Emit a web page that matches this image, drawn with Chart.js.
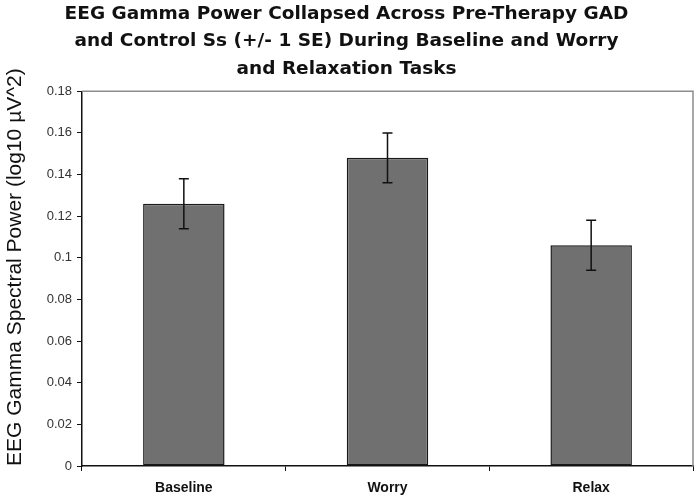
<!DOCTYPE html>
<html>
<head>
<meta charset="utf-8">
<script src="https://cdn.jsdelivr.net/npm/chart.js@4"></script>
<style>
  html, body { margin: 0; padding: 0; background: #fff; }
  #wrap { width: 700px; height: 501px; }
</style>
</head>
<body>
<div id="wrap"><canvas id="eegChart"></canvas></div>
<script>
const categories = ['Baseline', 'Worry', 'Relax'];
const gammaPower = [0.126, 0.148, 0.106];
const gammaSE = [0.012, 0.012, 0.012];
const yTicks = [0, 0.02, 0.04, 0.06, 0.08, 0.1, 0.12, 0.14, 0.16, 0.18];
const titleLines = [
    'EEG Gamma Power Collapsed Across Pre-Therapy GAD',
    'and Control Ss (+/- 1 SE) During Baseline and Worry',
    'and Relaxation Tasks'
];

Chart.defaults.font.family = '"Liberation Sans", Arial, sans-serif';
Chart.defaults.color = '#222';

// error bars + plot frame
const errorBars = {
    id: 'errorBars',
    beforeDatasetsDraw(chart) {
        const a = chart.chartArea;
        const ctx = chart.ctx;
        ctx.save();
        ctx.strokeStyle = '#8c8c8c';
        ctx.lineWidth = 1.5;
        ctx.beginPath();
        ctx.moveTo(a.left, a.top);
        ctx.lineTo(a.right, a.top);
        ctx.lineTo(a.right, a.bottom);
        ctx.stroke();
        ctx.restore();
    },
    afterDatasetsDraw(chart) {
        const ctx = chart.ctx;
        const x = chart.scales.x;
        const y = chart.scales.y;
        ctx.save();
        ctx.strokeStyle = '#111';
        ctx.lineWidth = 1.5;
        gammaPower.forEach((v, i) => {
            const px = x.getPixelForValue(i);
            const top = y.getPixelForValue(v + gammaSE[i]);
            const bot = y.getPixelForValue(v - gammaSE[i]);
            ctx.beginPath();
            ctx.moveTo(px, top);
            ctx.lineTo(px, bot);
            ctx.moveTo(px - 5, top);
            ctx.lineTo(px + 5, top);
            ctx.moveTo(px - 5, bot);
            ctx.lineTo(px + 5, bot);
            ctx.stroke();
        });
        ctx.restore();
    }
};

new Chart(document.getElementById('eegChart').getContext('2d'), {
    type: 'bar',
    data: {
        labels: categories,
        datasets: [{
            data: gammaPower,
            backgroundColor: '#707070',
            borderColor: '#1a1a1a',
            borderWidth: 1.5,
            borderSkipped: false,
            categoryPercentage: 1,
            barPercentage: 0.4
        }]
    },
    options: {
        responsive: true,
        maintainAspectRatio: false,
        animation: false,
        layout: { padding: { left: 0, right: 7, top: 0, bottom: 0 } },
        plugins: {
            legend: { display: false },
            tooltip: { enabled: false },
            title: {
                display: true,
                text: titleLines,
                color: '#111',
                font: { family: '"DejaVu Sans", sans-serif', size: 18.5, weight: 'bold', lineHeight: 1.5 },
                padding: { top: 0, bottom: 8 }
            }
        },
        scales: {
            x: {
                afterFit(scale) { scale.height = 35; },
                grid: {
                    drawOnChartArea: false,
                    color: '#111',
                    tickLength: 5,
                    tickWidth: 1
                },
                border: { color: '#111', width: 1.5 },
                ticks: {
                    color: '#111',
                    padding: 9,
                    font: { size: 14, weight: 'bold' }
                }
            },
            y: {
                min: 0,
                max: 0.18,
                afterFit(scale) { scale.width = 82; },
                afterBuildTicks(scale) {
                    scale.ticks = yTicks.map(v => ({ value: v }));
                },
                grid: {
                    drawOnChartArea: false,
                    color: '#111',
                    tickLength: 5,
                    tickWidth: 1
                },
                border: { color: '#111', width: 1.5 },
                ticks: {
                    color: '#333',
                    padding: 5,
                    font: { size: 13 },
                    callback: v => String(Math.round(v * 100) / 100)
                },
                title: {
                    display: true,
                    text: 'EEG Gamma Spectral Power (log10 µV^2)',
                    align: 'start',
                    color: '#111',
                    font: { size: 21 },
                    padding: { top: 3, bottom: 0 }
                }
            }
        }
    },
    plugins: [errorBars]
});
</script>
</body>
</html>
